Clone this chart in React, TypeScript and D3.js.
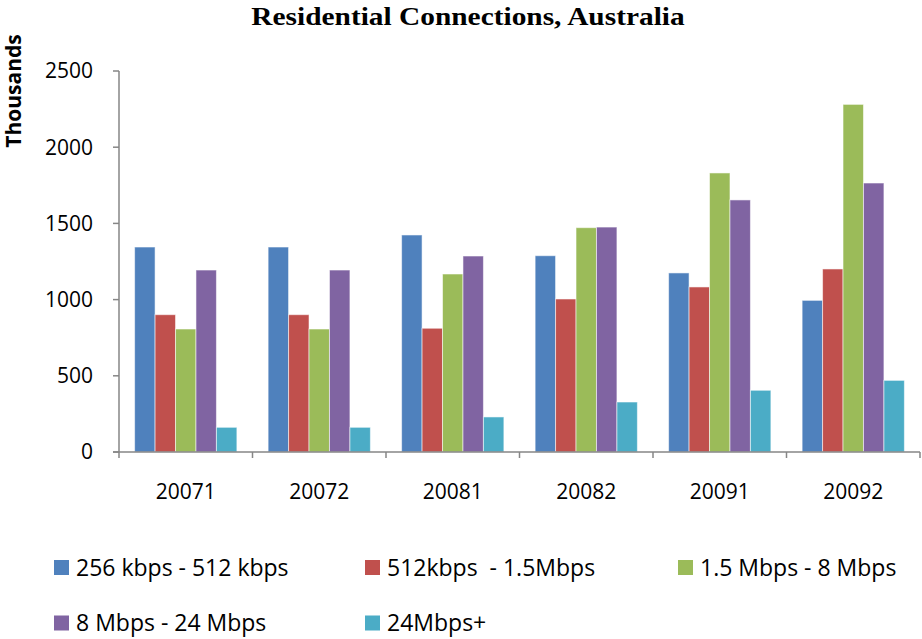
import React from "react";
import * as d3 from "d3";

const categories = ["20071", "20072", "20081", "20082", "20091", "20092"];
const seriesNames = [
  "256 kbps - 512 kbps",
  "512kbps  - 1.5Mbps",
  "1.5 Mbps - 8 Mbps",
  "8 Mbps - 24 Mbps",
  "24Mbps+",
];
const s256 = [1345, 1345, 1424, 1288, 1175, 995];
const s512 = [901, 901, 812, 1004, 1083, 1201];
const s15 = [807, 807, 1168, 1472, 1831, 2281];
const s8 = [1194, 1194, 1286, 1476, 1654, 1765];
const s24 = [162, 162, 230, 328, 405, 470];
const seriesValues = [s256, s512, s15, s8, s24];
const colors = ["#4F81BD", "#C0504D", "#9BBB59", "#8064A2", "#4BACC6"];
const yTicks = [0, 500, 1000, 1500, 2000, 2500];

const W = 922;
const H = 639;
const left = 119;
const right = 920;
const top = 71;
const bottom = 452;

export default function App() {
  const x0 = d3
    .scaleBand<string>()
    .domain(categories)
    .range([left, right])
    .paddingInner(0.234)
    .paddingOuter(0.117);
  const x1 = d3
    .scaleBand<number>()
    .domain(d3.range(seriesNames.length))
    .range([0, x0.bandwidth()]);
  const y = d3.scaleLinear().domain([0, 2500]).range([bottom, top]);
  const step = (right - left) / categories.length;
  const boundaries = d3.range(categories.length + 1).map((i) => left + i * step);
  const axisColor = "#868686";
  const sans = "'Open Sans', 'Liberation Sans', sans-serif";

  const legendPos = [
    { x: 54, y: 567.5 },
    { x: 365, y: 567.5 },
    { x: 678, y: 567.5 },
    { x: 54, y: 623 },
    { x: 365, y: 623 },
  ];

  return (
    <svg
      width={W}
      height={H}
      style={{ position: "absolute", left: 0, top: 0, background: "#fff" }}
    >
      <rect width={W} height={H} fill="#fff" />
      <text
        transform={`translate(468,25) scale(1.13,1)`}
        textAnchor="middle"
        fontFamily="'Liberation Serif', 'Times New Roman', serif"
        fontWeight="bold"
        fontSize={26}
        fill="#000"
      >
        Residential Connections, Australia
      </text>
      <text
        transform={`translate(21,91) rotate(-90)`}
        textAnchor="middle"
        fontFamily={sans}
        fontWeight="bold"
        fontSize={21}
        fill="#000"
      >
        Thousands
      </text>

      {seriesValues.map((vals, si) =>
        categories.map((c, ci) => (
          <rect
            key={`${si}-${ci}`}
            x={(x0(c) ?? 0) + (x1(si) ?? 0)}
            y={y(vals[ci])}
            width={x1.bandwidth()}
            height={bottom - y(vals[ci])}
            fill={colors[si]}
            stroke="#ffffff"
            strokeOpacity={0.55}
            strokeWidth={1}
          />
        ))
      )}

      <line x1={left} x2={left} y1={top} y2={bottom} stroke={axisColor} strokeWidth={1.5} />
      <line x1={left - 6} x2={right} y1={bottom} y2={bottom} stroke={axisColor} strokeWidth={1.5} />
      {yTicks.map((t) => (
        <g key={t}>
          <line x1={left - 6} x2={left} y1={y(t)} y2={y(t)} stroke={axisColor} strokeWidth={1.5} />
          <text
            x={left - 26}
            y={y(t)}
            dy="0.35em"
            textAnchor="end"
            fontFamily={sans}
            fontSize={21}
            fill="#000"
          >
            {t}
          </text>
        </g>
      ))}
      {boundaries.map((b, i) => (
        <line key={i} x1={b} x2={b} y1={bottom} y2={bottom + 6} stroke={axisColor} strokeWidth={1.5} />
      ))}
      {categories.map((c) => (
        <text
          key={c}
          x={(x0(c) ?? 0) + x0.bandwidth() / 2}
          y={492}
          dy="0.35em"
          textAnchor="middle"
          fontFamily={sans}
          fontSize={21}
          fill="#000"
        >
          {c}
        </text>
      ))}

      {seriesNames.map((n, i) => (
        <g key={n}>
          <rect x={legendPos[i].x} y={legendPos[i].y - 7.5} width={15} height={15} fill={colors[i]} />
          <text
            x={legendPos[i].x + 22}
            y={legendPos[i].y}
            dy="0.35em"
            fontFamily={sans}
            fontSize={23}
            fill="#000"
            style={{ whiteSpace: "pre" }}
          >
            {n}
          </text>
        </g>
      ))}
    </svg>
  );
}
